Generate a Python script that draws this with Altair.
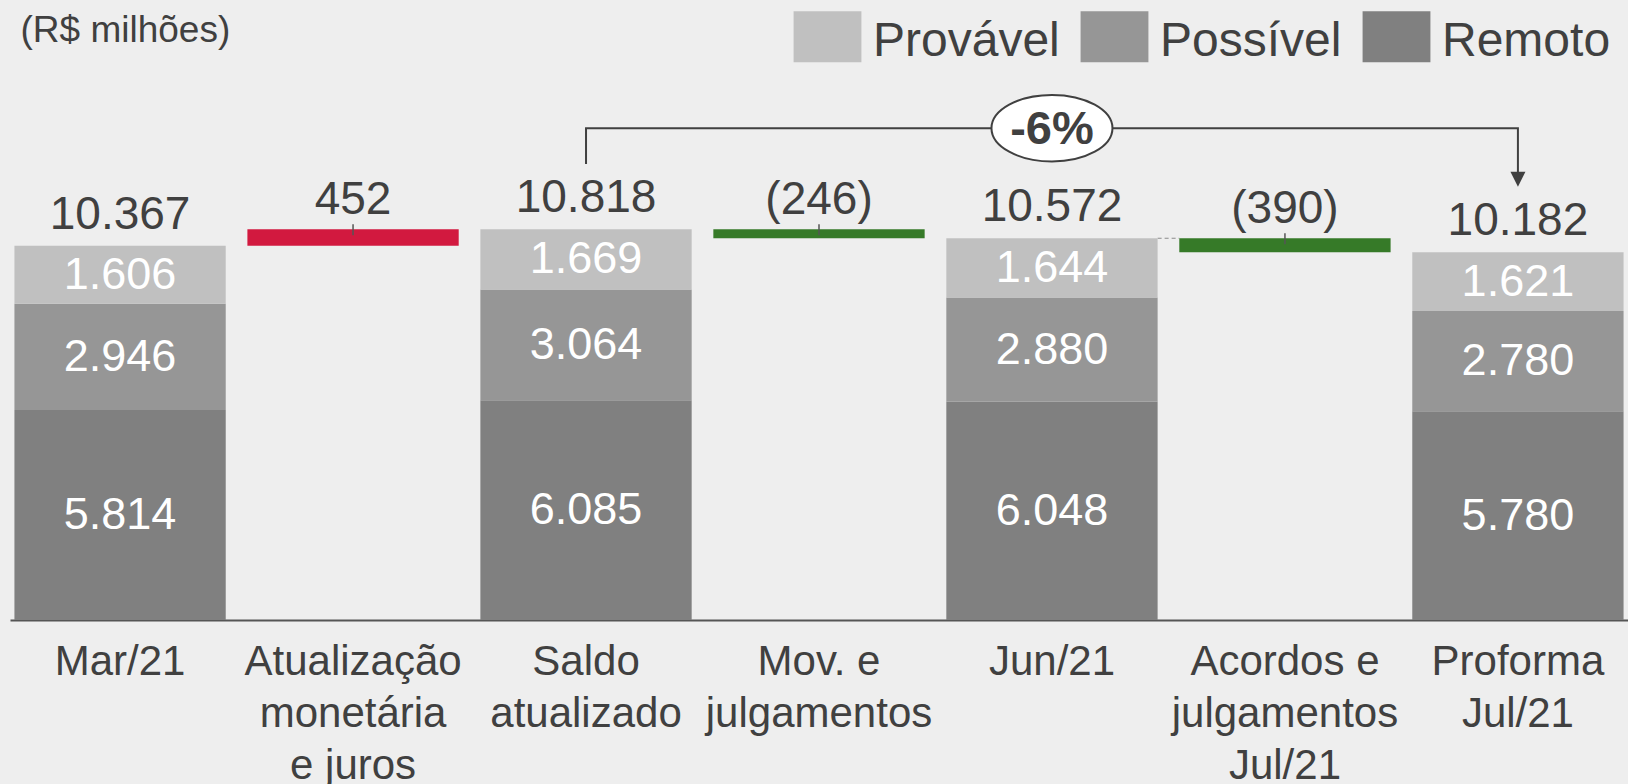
import altair as alt
import pandas as pd

FONT = "Liberation Sans, Arial, Helvetica, sans-serif"

# ---------------- data ----------------
categories = [
    "Mar/21",
    "Atualização\nmonetária\ne juros",
    "Saldo\natualizado",
    "Mov. e\njulgamentos",
    "Jun/21",
    "Acordos e\njulgamentos\nJul/21",
    "Proforma\nJul/21",
]
balance_cats = [categories[0], categories[2], categories[4], categories[6]]
provavel = [1606, 1669, 1644, 1621]
possivel = [2946, 3064, 2880, 2780]
remoto = [5814, 6085, 6048, 5780]
totals = [10367, 10818, 10572, 10182]

change_cats = [categories[1], categories[3], categories[5]]
changes = [452, -246, -390]
change_from = [10367, 10818, 10572]

series = ["Provável", "Possível", "Remoto"]
series_colors = ["#c0c0c0", "#969696", "#808080"]
up_color = "#d2193f"
down_color = "#367a28"

variation_label = "-6%"
bracket_cats = [categories[2], categories[2], categories[6], categories[6]]
bracket_y = [12630, 13620, 13620, 12207]
variation_cat = categories[4]


def br(n):
    return f"{n:,}".replace(",", ".")


# stacked segments
seg_rows = []
for c, pv, ps, rm in zip(balance_cats, provavel, possivel, remoto):
    base = 0
    for name, v in (("Remoto", rm), ("Possível", ps), ("Provável", pv)):
        seg_rows.append(dict(cat=c, series=name, start=base, end=base + v,
                             mid=base + v / 2, label=br(v)))
        base += v
seg_df = pd.DataFrame(seg_rows)

tot_df = pd.DataFrame(dict(cat=balance_cats, total=totals,
                           label=[br(t) for t in totals]))

chg_df = pd.DataFrame(dict(
    cat=change_cats,
    start=change_from,
    end=[f + d for f, d in zip(change_from, changes)],
    top=[max(f, f + d) for f, d in zip(change_from, changes)],
    label=[br(d) if d > 0 else f"({br(-d)})" for d in changes],
    dir=["up" if d > 0 else "down" for d in changes],
))

conn_df = pd.DataFrame(dict(cat=[categories[4]], cat2=[categories[5]],
                            y=[totals[2]]))

br_df = pd.DataFrame(dict(cat=bracket_cats, y=bracket_y,
                          i=list(range(len(bracket_y)))))
arrow_df = br_df.iloc[[-1]]
pct_df = pd.DataFrame(dict(cat=[variation_cat], y=[bracket_y[1]],
                           label=[variation_label]))

# ---------------- scales / axes ----------------
xscale = alt.Scale(domain=categories, paddingInner=0.093, paddingOuter=0.019)
xaxis = alt.Axis(
    title=None,
    labelExpr="split(datum.label, '\\n')",
    labelFontSize=42, labelFont=FONT, labelColor="#404040",
    labelLineHeight=52, labelPadding=21, labelAngle=0, labelLimit=0,
    labelOverlap=False,
    ticks=False, tickSize=0,
    domainColor="#555555", domainWidth=2,
)
yscale = alt.Scale(domain=[0, 14400], nice=False, zero=True)
yaxis = alt.Axis(
    title="(R$ milhões)", labels=False, ticks=False, domain=False, grid=False,
    titleAngle=0, titleAlign="left", titleBaseline="alphabetic",
    titleX=10, titleY=-58.5, titleFontSize=37, titleFontWeight="normal",
    titleColor="#404040", titleFont=FONT,
)


def X(field="cat", **kw):
    return alt.X(f"{field}:N", scale=xscale, axis=xaxis, **kw)


def Y(field):
    return alt.Y(f"{field}:Q", scale=yscale, axis=yaxis)


# ---------------- layers ----------------
connector = alt.Chart(conn_df).mark_rule(
    color="#8c8c8c", strokeWidth=1.2, strokeDash=[4, 3]
).encode(
    x=X(bandPosition=1),
    x2=alt.X2("cat2:N", bandPosition=0),
    y=Y("y"),
)

legend = alt.Legend(
    orient="none", legendX=792, legendY=-83.6, direction="horizontal",
    title=None, symbolType="M-1.33,-1.21H1.33V0.79H-1.33Z", symbolSize=2601,
    symbolStrokeWidth=0, symbolOpacity=1, labelFontSize=48, labelFont=FONT,
    labelColor="#404040", labelOffset=20, columnPadding=20, padding=0,
    labelLimit=400, labelBaseline="middle",
)

stacks = alt.Chart(seg_df).mark_bar(opacity=1).encode(
    x=X(),
    y=Y("start"),
    y2="end:Q",
    color=alt.Color("series:N", scale=alt.Scale(domain=series, range=series_colors),
                    legend=legend),
)

chg_bars = alt.Chart(chg_df).mark_bar(opacity=1).encode(
    x=X(),
    y=Y("start"),
    y2="end:Q",
    fill=alt.Fill("dir:N", scale=alt.Scale(domain=["up", "down"],
                                           range=[up_color, down_color]),
                  legend=None),
)

chg_ticks = alt.Chart(chg_df).mark_rule(
    color="#555555", strokeWidth=1.5, yOffset=-5, y2Offset=6
).encode(x=X(), y=Y("top"), y2="top:Q")

seg_labels = alt.Chart(seg_df).mark_text(
    color="white", fontSize=45, font=FONT, baseline="middle"
).encode(x=X(), y=Y("mid"), text="label:N")

tot_labels = alt.Chart(tot_df).mark_text(
    color="#404040", fontSize=46, font=FONT, baseline="alphabetic", dy=-17
).encode(x=X(), y=Y("total"), text="label:N")

chg_labels = alt.Chart(chg_df).mark_text(
    color="#404040", fontSize=46, font=FONT, baseline="alphabetic", dy=-15
).encode(x=X(), y=Y("top"), text="label:N")

bracket = alt.Chart(br_df).mark_line(color="#404040", strokeWidth=2).encode(
    x=X(), y=Y("y"), order="i:Q"
)

arrow = alt.Chart(arrow_df).mark_point(
    shape="M-1,-1L1,-1L0,1Z", size=225, filled=True, color="#404040", opacity=1
).encode(x=X(), y=Y("y"))

ellipse = alt.Chart(pct_df).mark_point(
    shape="M-1,0A1,0.55 0 1,1 1,0A1,0.55 0 1,1 -1,0Z", size=14641,
    filled=True, fill="white", stroke="#404040", strokeWidth=2, opacity=1,
).encode(x=X(), y=Y("y"))

pct_text = alt.Chart(pct_df).mark_text(
    color="#404040", fontSize=47, fontWeight="bold", font=FONT,
    baseline="middle", dy=2
).encode(x=X(), y=Y("y"), text="label:N")

chart = alt.layer(
    connector, stacks, chg_bars, chg_ticks, seg_labels, tot_labels, chg_labels,
    bracket, arrow, ellipse, pct_text,
).properties(
    width=1618, height=520, background="#eeeeee",
    padding={"left": 10, "top": 100, "right": 0, "bottom": 164},
    autosize=alt.AutoSizeParams(type="none"),
).configure_view(strokeWidth=0)

chart.save("out.html", embed_options={"renderer": "svg", "actions": False})
